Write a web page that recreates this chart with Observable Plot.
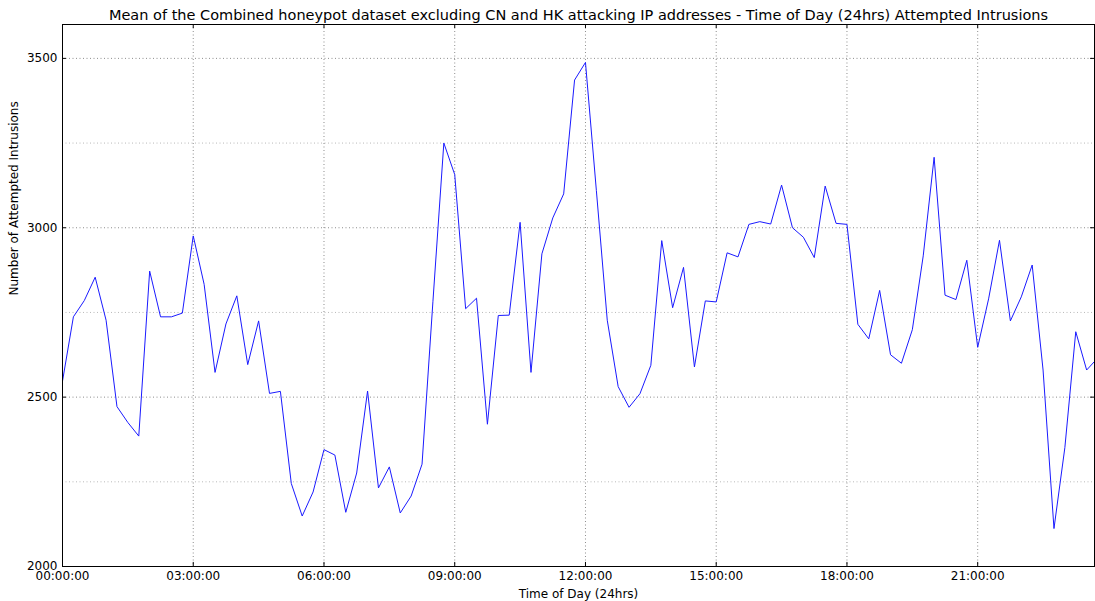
<!DOCTYPE html>
<html>
<head>
<meta charset="utf-8">
<script src="https://cdn.jsdelivr.net/npm/d3@7"></script>
<script src="https://cdn.jsdelivr.net/npm/@observablehq/plot@0.6"></script>
<style>
  html, body { margin: 0; padding: 0; background: #fff; }
  #chart svg { display: block; }
</style>
</head>
<body>
<div id="chart"></div>
<script>
const titleText = "Mean of the Combined honeypot dataset excluding CN and HK attacking IP addresses - Time of Day (24hrs) Attempted Intrusions";
const xLabel = "Time of Day (24hrs)";
const yLabel = "Number of Attempted Intrusions";

// Attempted intrusions per 15-minute slot, 00:00 .. 23:45
const intrusions = [
  2547, 2737, 2785, 2854, 2727, 2472, 2425, 2385,
  2872, 2737, 2737, 2748, 2976, 2833, 2573, 2716,
  2799, 2596, 2725, 2511, 2517, 2245, 2149, 2220,
  2345, 2329, 2160, 2276, 2518, 2232, 2294, 2158,
  2208, 2302, 2783, 3250, 3157, 2761, 2792, 2420,
  2741, 2742, 3016, 2573, 2923, 3029, 3100, 3436,
  3488, 3110, 2727, 2531, 2470, 2510, 2594, 2962,
  2764, 2883, 2589, 2784, 2781, 2926, 2914, 3010,
  3018, 3011, 3126, 3000, 2972, 2912, 3123, 3013,
  3010, 2715, 2672, 2815, 2625, 2600, 2699, 2917,
  3208, 2801, 2788, 2904, 2647, 2790, 2963, 2725,
  2796, 2890, 2580, 2112, 2351, 2693, 2580, 2615
];
const xTicks = [0, 3, 6, 9, 12, 15, 18, 21];
const xTickLabels = ["00:00:00", "03:00:00", "06:00:00", "09:00:00", "12:00:00", "15:00:00", "18:00:00", "21:00:00"];
const yTicks = [2000, 2500, 3000, 3500];
const yMinor = [2250, 2750, 3250];

const data = intrusions.map((v, i) => ({hour: i / 4, value: v}));
const xEnd = 23.68;
const font = "DejaVu Sans, sans-serif";

const chart = Plot.plot({
  width: 1095,
  height: 601,
  marginLeft: 62,
  marginRight: 1,
  marginTop: 24,
  marginBottom: 35,
  style: {fontFamily: font, fontSize: "12px", color: "#000", background: "#fff"},
  x: {domain: [0, xEnd]},
  y: {domain: [2000, 3600]},
  marks: [
    Plot.gridX(xTicks, {stroke: "#000", strokeOpacity: 0.45, strokeDasharray: "1,2.5"}),
    Plot.gridY(yTicks, {stroke: "#000", strokeOpacity: 0.45, strokeDasharray: "1,2.5"}),
    Plot.gridY(yMinor, {stroke: "#000", strokeOpacity: 0.28, strokeDasharray: "1,2.5"}),
    Plot.line(data, {x: "hour", y: "value", stroke: "#1a1aff", strokeWidth: 1, clip: true}),
    // inward ticks
    Plot.ruleX(xTicks, {x: d => d, y1: 2000, y2: 2012, stroke: "#000"}),
    Plot.ruleX(xTicks, {x: d => d, y1: 3600, y2: 3588, stroke: "#000"}),
    Plot.ruleY(yTicks, {y: d => d, x1: 0, x2: 0.09, stroke: "#000"}),
    Plot.ruleY(yTicks, {y: d => d, x1: xEnd, x2: xEnd - 0.09, stroke: "#000"}),
    Plot.frame({stroke: "#000", strokeWidth: 1}),
    Plot.axisX(xTicks, {
      tickSize: 0, tickPadding: 5, fontSize: 12,
      tickFormat: (d) => xTickLabels[xTicks.indexOf(d)],
      label: null
    }),
    Plot.axisY(yTicks, {
      tickSize: 0, tickPadding: 5, fontSize: 12,
      tickFormat: d => String(d), label: null
    }),
    Plot.text([titleText], {
      frameAnchor: "top", dy: -5, lineAnchor: "bottom",
      fontSize: 14.5, fill: "#000", text: d => d
    }),
    Plot.text([xLabel], {
      frameAnchor: "bottom", dy: 23, lineAnchor: "top",
      fontSize: 12, fill: "#000", text: d => d
    }),
    Plot.text([yLabel], {
      frameAnchor: "left", dx: -45, rotate: -90, lineAnchor: "bottom",
      fontSize: 12, fill: "#000", text: d => d
    })
  ]
});
document.getElementById("chart").appendChild(chart);
</script>
</body>
</html>
